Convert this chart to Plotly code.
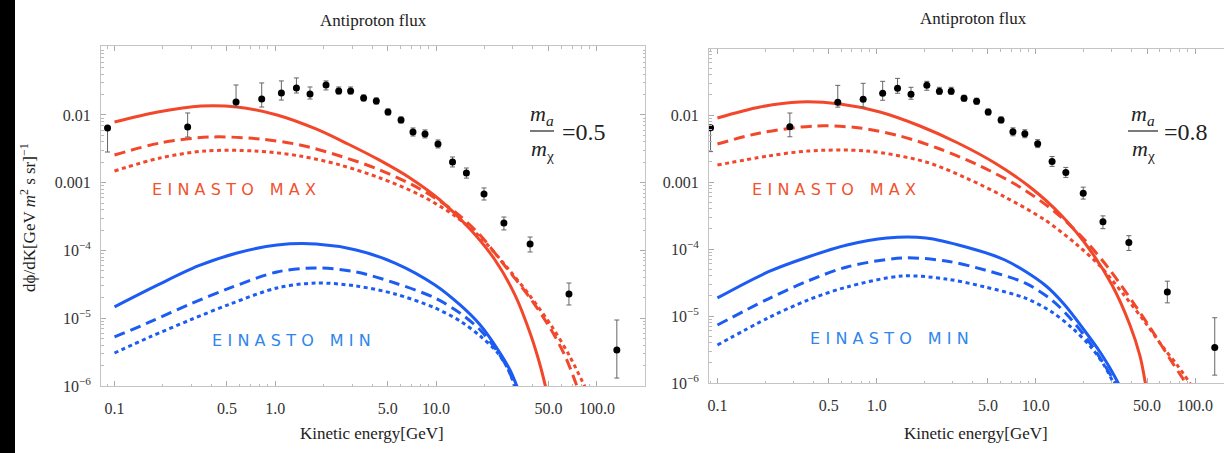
import plotly.graph_objects as go

W, H = 1224, 453

# ---------------- data ----------------
E_data = [0.0905, 0.285, 0.570, 0.823, 1.091, 1.353, 1.644, 2.067, 2.479, 2.940, 3.541, 4.247,
          5.02, 6.05, 7.18, 8.53, 10.27, 12.65, 15.43, 19.85, 26.4, 38.4, 67.0, 133.0]
F_data = [6.43e-3, 6.65e-3, 1.556e-2, 1.72e-2, 2.11e-2, 2.51e-2, 2.04e-2, 2.77e-2, 2.26e-2, 2.26e-2,
          1.78e-2, 1.61e-2, 1.107e-2, 8.43e-3, 5.61e-3, 5.24e-3, 3.73e-3, 2.02e-3, 1.39e-3, 6.82e-4,
          2.55e-4, 1.25e-4, 2.28e-5, 3.40e-6]
F_hi = [6.43e-3, 1.07e-2, 2.77e-2, 2.97e-2, 3.18e-2, 3.52e-2, 2.59e-2, 3.18e-2, 2.59e-2, 2.59e-2,
        1.97e-2, 1.78e-2, 1.227e-2, 9.34e-3, 6.43e-3, 6.01e-3, 4.28e-3, 2.40e-3, 1.65e-3, 8.38e-4,
        3.12e-4, 1.58e-4, 3.31e-5, 9.42e-6]
F_lo = [2.84e-3, 4.73e-3, 1.31e-2, 1.31e-2, 1.66e-2, 2.11e-2, 1.72e-2, 2.34e-2, 2.04e-2, 2.04e-2,
        1.61e-2, 1.45e-2, 1.0e-2, 7.62e-3, 4.89e-3, 4.58e-3, 3.26e-3, 1.71e-3, 1.17e-3, 5.56e-4,
        2.01e-4, 9.51e-5, 1.57e-5, 1.31e-6]

# m_a/m_chi = 0.5  (left panel)
E_max_solid_05 = [0.1, 0.186, 0.345, 0.578, 1.025, 1.79, 2.83, 4.42, 6.88, 10.57, 16.24, 23.25, 30.96, 38.4, 44.3, 48.3]
F_max_solid_05 = [7.88e-3, 1.107e-2, 1.358e-2, 1.313e-2, 1.0e-2, 6.22e-3, 3.73e-3, 2.17e-3, 1.175e-3,
                  5.56e-4, 2.076e-4, 7.24e-5, 2.20e-5, 6.05e-6, 2.04e-6, 9.0e-7]
E_max_dash_05 = [0.1, 0.192, 0.393, 0.803, 1.424, 2.526, 4.48, 7.94, 13.11, 18.75, 26.83, 38.4, 51.1, 63.4, 76.3]
F_max_dash_05 = [2.57e-3, 3.86e-3, 4.73e-3, 4.42e-3, 3.61e-3, 2.48e-3, 1.542e-3, 8.09e-4, 3.70e-4,
                 1.693e-4, 5.90e-5, 1.99e-5, 7.18e-6, 2.77e-6, 9.0e-7]
E_max_dot_05 = [0.1, 0.192, 0.3655, 0.748, 1.424, 2.526, 4.48, 7.94, 13.11, 18.75, 26.83, 38.4, 52.6, 68.0, 85.5]
F_max_dot_05 = [1.49e-3, 2.32e-3, 2.94e-3, 2.94e-3, 2.48e-3, 1.828e-3, 1.175e-3, 6.59e-4, 3.23e-4,
                1.582e-4, 6.11e-5, 2.13e-5, 7.49e-6, 2.70e-6, 9.0e-7]
E_min_solid_05 = [0.1, 0.186, 0.331, 0.578, 1.025, 1.79, 3.18, 5.55, 9.84, 14.1, 18.8, 24.3, 28.8, 32.3]
F_min_solid_05 = [1.47e-5, 3.10e-5, 5.91e-5, 9.19e-5, 1.205e-4, 1.247e-4, 1.016e-4, 6.53e-5, 3.10e-5,
                  1.57e-5, 7.95e-6, 3.40e-6, 1.72e-6, 9.0e-7]
E_min_dash_05 = [0.1, 0.166, 0.295, 0.523, 1.025, 1.79, 3.18, 5.55, 9.84, 14.1, 18.8, 23.2, 27.6, 31.4]
F_min_dash_05 = [5.29e-6, 8.81e-6, 1.62e-5, 2.80e-5, 4.82e-5, 5.52e-5, 4.82e-5, 3.31e-5, 1.99e-5,
                 1.19e-5, 6.70e-6, 3.64e-6, 1.91e-6, 9.0e-7]
E_min_dot_05 = [0.1, 0.166, 0.295, 0.523, 1.025, 1.79, 3.18, 5.55, 9.84, 14.1, 18.8, 23.9, 28.0, 31.4]
F_min_dot_05 = [3.07e-6, 5.29e-6, 9.42e-6, 1.62e-5, 2.80e-5, 3.31e-5, 2.99e-5, 2.28e-5, 1.42e-5,
                9.10e-6, 5.47e-6, 3.18e-6, 1.78e-6, 9.0e-7]

# m_a/m_chi = 0.8  (right panel)
E_max_solid_08 = [0.1, 0.185, 0.330, 0.588, 1.049, 1.871, 3.24, 5.53, 9.18, 14.6, 21.9, 30.1, 39.0, 45.1, 49.1]
F_max_solid_08 = [9.02e-3, 1.316e-2, 1.563e-2, 1.459e-2, 1.109e-2, 6.85e-3, 3.82e-3, 1.92e-3, 8.42e-4,
                  3.11e-4, 9.66e-5, 2.90e-5, 7.34e-6, 2.53e-6, 9.0e-7]
E_max_dash_08 = [0.1, 0.185, 0.410, 0.785, 1.401, 2.50, 4.46, 7.94, 13.2, 20.3, 29.2, 41.9, 56.0, 71.6, 90.2]
F_max_dash_08 = [3.69e-3, 5.38e-3, 6.85e-3, 6.40e-3, 4.86e-3, 3.11e-3, 1.733e-3, 8.42e-4, 3.57e-4,
                 1.362e-4, 4.86e-5, 1.46e-5, 5.20e-6, 2.06e-6, 9.0e-7]
E_max_dot_08 = [0.1, 0.2076, 0.370, 0.869, 2.04, 3.64, 6.40, 11.4, 17.9, 25.3, 35.8, 48.4, 62.8, 78.1, 95.5]
F_max_dot_08 = [1.79e-3, 2.44e-3, 2.90e-3, 2.90e-3, 1.99e-3, 1.148e-3, 5.97e-4, 2.71e-4, 1.188e-4,
                5.58e-5, 2.06e-5, 8.14e-6, 3.45e-6, 1.79e-6, 9.0e-7]
E_min_solid_08 = [0.1, 0.2076, 0.370, 0.651, 1.161, 2.04, 3.64, 6.40, 11.4, 15.2, 20.1, 25.3, 29.2, 33.7]
F_min_solid_08 = [1.86e-5, 4.54e-5, 7.60e-5, 1.148e-4, 1.46e-4, 1.46e-4, 1.071e-4, 6.85e-5, 2.90e-5,
                  1.46e-5, 6.18e-6, 2.90e-6, 1.67e-6, 9.0e-7]
E_min_dash_08 = [0.1, 0.2076, 0.370, 0.651, 1.442, 2.725, 4.79, 8.54, 12.6, 16.4, 21.2, 26.8, 32.3]
F_min_dash_08 = [7.34e-6, 1.79e-5, 3.33e-5, 5.39e-5, 7.34e-5, 6.62e-5, 4.86e-5, 3.11e-5, 1.73e-5,
                 9.33e-6, 4.38e-6, 1.92e-6, 9.0e-7]
E_min_dot_08 = [0.1, 0.2076, 0.370, 0.651, 1.442, 2.725, 4.79, 8.54, 12.6, 16.9, 21.9, 26.8, 31.4]
F_min_dot_08 = [3.69e-6, 9.33e-6, 1.73e-5, 2.71e-5, 3.95e-5, 3.57e-5, 2.71e-5, 1.86e-5, 1.15e-5,
                6.62e-6, 3.56e-6, 1.86e-6, 9.0e-7]

x_tickvals = [0.1, 0.5, 1.0, 5.0, 10.0, 50.0, 100.0]
x_ticktext = ["0.1", "0.5", "1.0", "5.0", "10.0", "50.0", "100.0"]
y_tickvals = [1e-2, 1e-3, 1e-4, 1e-5, 1e-6]
y_ticktext = ["0.01", "0.001", "10<sup>\u22124</sup>", "10<sup>\u22125</sup>", "10<sup>\u22126</sup>"]

RED = "#F2472A"
BLUE = "#1C5CF2"
RED_TXT = "#F0532F"
BLUE_TXT = "#2E86EC"
SERIF = "Liberation Serif, Times New Roman, serif"

panels = [
    dict(xa="x", ya="y",
         curves=[(E_max_solid_05, F_max_solid_05, RED, "solid"),
                 (E_max_dash_05, F_max_dash_05, RED, "dash"),
                 (E_max_dot_05, F_max_dot_05, RED, "dot"),
                 (E_min_solid_05, F_min_solid_05, BLUE, "solid"),
                 (E_min_dash_05, F_min_dash_05, BLUE, "dash"),
                 (E_min_dot_05, F_min_dot_05, BLUE, "dot")]),
    dict(xa="x2", ya="y2",
         curves=[(E_max_solid_08, F_max_solid_08, RED, "solid"),
                 (E_max_dash_08, F_max_dash_08, RED, "dash"),
                 (E_max_dot_08, F_max_dot_08, RED, "dot"),
                 (E_min_solid_08, F_min_solid_08, BLUE, "solid"),
                 (E_min_dash_08, F_min_dash_08, BLUE, "dash"),
                 (E_min_dot_08, F_min_dot_08, BLUE, "dot")]),
]

DASHES = {"solid": "solid", "dash": "11px,6px", "dot": "4px,3.5px"}

fig = go.Figure()
for p in panels:
    for (ex, fy, col, style) in p["curves"]:
        fig.add_trace(go.Scatter(x=ex, y=fy, mode="lines", xaxis=p["xa"], yaxis=p["ya"],
                                 line=dict(color=col, width=3, dash=DASHES[style], shape="spline",
                                           smoothing=0.9),
                                 hoverinfo="skip"))
    fig.add_trace(go.Scatter(
        x=E_data, y=F_data, mode="markers", xaxis=p["xa"], yaxis=p["ya"],
        marker=dict(color="black", size=7),
        error_y=dict(type="data", symmetric=False,
                     array=[h - v for h, v in zip(F_hi, F_data)],
                     arrayminus=[v - l for v, l in zip(F_data, F_lo)],
                     color="#666666", thickness=1, width=2.5)))


def px(x):
    return x / W


def py(y):
    return 1 - y / H


minor_vals = [m * 10.0 ** d for d in range(-7, 3) for m in range(2, 10)]
tickfont = dict(family=SERIF, size=16, color="#333333")

common_x = dict(type="log", tickmode="array", tickvals=x_tickvals, ticktext=x_ticktext, automargin=False,
                ticks="inside", ticklen=5, tickcolor="#AAAAAA", showline=True, linecolor="#C4C4C4",
                linewidth=1, showgrid=False, zeroline=False, tickfont=tickfont, ticklabelstandoff=8,
                minor=dict(tickmode="array", tickvals=minor_vals, ticks="inside", ticklen=2.5,
                           tickcolor="#BBBBBB", showgrid=False))
common_y = dict(type="log", tickmode="array", tickvals=y_tickvals, ticktext=y_ticktext, automargin=False,
                ticks="inside", ticklen=5, tickcolor="#AAAAAA", showline=True, linecolor="#C4C4C4",
                linewidth=1, showgrid=False, zeroline=False, tickfont=tickfont, ticklabelstandoff=6,
                minor=dict(tickmode="array", tickvals=minor_vals, ticks="inside", ticklen=2.5,
                           tickcolor="#BBBBBB", showgrid=False))

fig.update_layout(
    width=W, height=H, autosize=False, margin=dict(l=0, r=0, t=0, b=0, pad=0, autoexpand=False),
    paper_bgcolor="white", plot_bgcolor="white", showlegend=False,
    xaxis=dict(common_x, domain=[px(101), px(645)], range=[-1.084, 2.299], anchor="y", mirror="ticks"),
    yaxis=dict(common_y, domain=[py(386), py(46)], range=[-6, -0.982], anchor="x", mirror="ticks"),
    xaxis2=dict(common_x, domain=[px(709), 1.0], range=[-1.053, 2.182], anchor="y2", mirror="ticks"),
    yaxis2=dict(common_y, domain=[py(383), py(49)], range=[-6, -1.015], anchor="x2", mirror=False),
)

ann = []
for xc, yc in [(373, 20), (974, 19)]:
    ann.append(dict(x=px(xc), y=py(yc), text="Antiproton flux"))
for xc, yc in [(372, 433), (976, 433)]:
    ann.append(dict(x=px(xc), y=py(yc), text="Kinetic energy[GeV]", size=17))
ann.append(dict(x=px(28), y=py(218), text="d\u03d5/dK[GeV <i>m</i><sup>2</sup> s sr]<sup>\u22121</sup>",
                angle=-90, size=17))

sp = "\u2004"
lab_max = sp.join("EINASTO") + sp * 3 + sp.join("MAX")
lab_min = sp.join("EINASTO") + sp * 3 + sp.join("MIN")
for xc, yc in [(234, 190), (834, 189)]:
    ann.append(dict(x=px(xc), y=py(yc), text=lab_max, color=RED_TXT, family="DejaVu Sans", size=16))
for xc, yc in [(291, 340), (889, 338)]:
    ann.append(dict(x=px(xc), y=py(yc), text=lab_min, color=BLUE_TXT, family="DejaVu Sans", size=16))

shapes = []
for (xl, xr, yl, ratio_x, ratio) in [(530, 554, 131, 584, "0.5"), (1128, 1158, 131, 1186, "0.8")]:
    xm = (xl + xr) / 2
    ann.append(dict(x=px(xm), y=py(115), text="<i>m</i><sub><i>a</i></sub>", size=22))
    ann.append(dict(x=px(xm), y=py(150), text="<i>m</i><sub>\u03c7</sub>", size=22))
    ann.append(dict(x=px(ratio_x), y=py(yl + 1), text="=" + ratio, size=24))
    shapes.append(dict(type="line", xref="paper", yref="paper", x0=px(xl), x1=px(xr),
                       y0=py(yl), y1=py(yl), line=dict(color="#222222", width=1.2)))

shapes.append(dict(type="rect", xref="paper", yref="paper", x0=0, x1=px(15), y0=0, y1=1,
                   fillcolor="black", line=dict(width=0), layer="above"))

annotations = []
for a in ann:
    annotations.append(dict(
        x=a["x"], y=a["y"], xref="paper", yref="paper", text=a["text"], showarrow=False,
        xanchor="center", yanchor="middle", textangle=a.get("angle", 0),
        font=dict(family=a.get("family", SERIF), size=a.get("size", 17), color=a.get("color", "#222222"))))

fig.update_layout(annotations=annotations, shapes=shapes)
fig.write_html("out.html",
               config={"responsive": False, "displayModeBar": False},
               post_script="document.body.style.margin='0px';document.body.style.overflow='hidden';")
